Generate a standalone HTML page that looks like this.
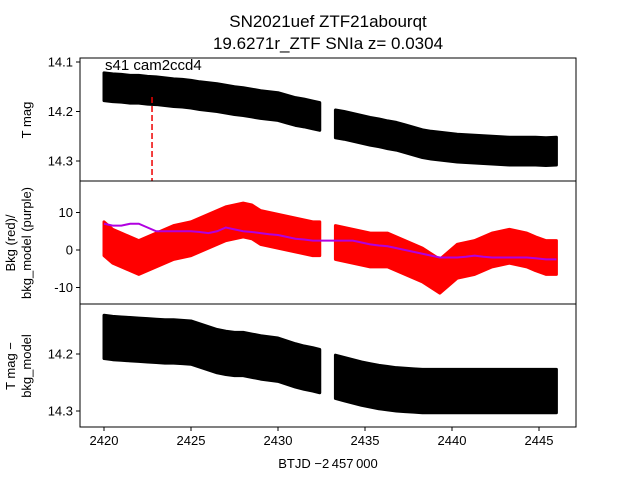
<!DOCTYPE html>
<html><head><meta charset="utf-8"><style>
body{margin:0;background:#fff;}
svg{display:block;font-family:"Liberation Sans","DejaVu Sans",sans-serif;}
</style></head><body>
<svg id="c" width="640" height="480" viewBox="0 0 640 480">
<text x="328" y="27" font-size="17" text-anchor="middle">SN2021uef  ZTF21abourqt</text>
<text x="328" y="49" font-size="17" text-anchor="middle">19.6271r_ZTF SNIa z= 0.0304</text>
<g id="marks"></g>
<g id="axes"></g>
</svg>
<script>
const times=[2420,2420.5,2421,2421.5,2422,2422.5,2423,2423.5,2424,2424.5,2425,2425.5,2426,2426.5,2427,2427.5,2428,2428.5,2429,2429.5,2430,2430.5,2431,2431.5,2432,2432.4,2433.3,2433.8,2434.3,2434.8,2435.3,2435.8,2436.3,2436.8,2437.3,2437.8,2438.3,2438.8,2439.3,2439.8,2440.3,2440.8,2441.3,2441.8,2442.3,2442.8,2443.3,2443.8,2444.3,2444.8,2445.4,2446];
const tmag=[14.15,14.152,14.153,14.155,14.155,14.157,14.158,14.16,14.162,14.163,14.165,14.168,14.17,14.172,14.175,14.178,14.18,14.183,14.186,14.188,14.19,14.195,14.2,14.203,14.207,14.21,14.225,14.228,14.232,14.236,14.24,14.243,14.247,14.25,14.255,14.26,14.265,14.268,14.27,14.272,14.274,14.275,14.276,14.277,14.278,14.279,14.28,14.28,14.28,14.28,14.281,14.28];
const bkg=[3,1,0,-1,-2,-1,0,1,2,2.5,3,4,5,6,7,7.5,8,7.5,6,5.5,5,4.5,4,3.5,3,3,2,1.5,1,0.5,0,0,0,-1,-2,-3,-4,-5.5,-7,-5,-3,-2.5,-2,-1,0,0.5,1,0.5,0,-1,-2,-2];
const bkgModel=[7,6.5,6.5,7,7,6,5,5,5,5,5,4.8,4.5,5,6,5.5,5,4.8,4.5,4.2,4,3.5,3,2.8,2.5,2.5,2.5,2.5,2.5,2,1.5,1.2,1,0.5,0,-0.5,-1,-1.5,-2,-2,-2,-1.8,-1.5,-1.8,-2,-2,-2,-2,-2,-2.2,-2.5,-2.5];
const cmag=[14.17,14.172,14.173,14.174,14.175,14.176,14.177,14.178,14.178,14.179,14.18,14.185,14.19,14.195,14.198,14.2,14.2,14.203,14.206,14.208,14.21,14.215,14.22,14.224,14.227,14.23,14.24,14.244,14.248,14.252,14.255,14.258,14.26,14.262,14.263,14.264,14.265,14.265,14.265,14.265,14.265,14.265,14.265,14.265,14.265,14.265,14.265,14.265,14.265,14.265,14.265,14.265];
const tickX=[2420,2425,2430,2435,2440,2445];
const tick1=[14.1,14.2,14.3];
const tick2=[10,0,-10];
const tick3=[14.2,14.3];
const markerT=2422.76;
const gapStart=2432.4, gapEnd=2433.3;

const NS="http://www.w3.org/2000/svg";
const L=80,R=576;
const xs=t=>104+(t-2420)*17.4;
const y1=m=>62+(m-14.1)*495;
const y2=v=>250-v*3.75;
const y3=m=>354+(m-14.2)*570;
const marks=document.getElementById('marks'),axes=document.getElementById('axes');
function mk(tag,at,parent){const e=document.createElementNS(NS,tag);for(const k in at)e.setAttribute(k,at[k]);parent.appendChild(e);return e;}
function band(vals,sp,yf,color,name){
 const segs=[times.map((t,i)=>i).filter(i=>times[i]<=gapStart),times.map((t,i)=>i).filter(i=>times[i]>=gapEnd)];
 segs.forEach(idx=>{
  const up=idx.map(i=>xs(times[i])+','+yf(vals[i]+sp));
  const dn=idx.slice().reverse().map(i=>xs(times[i])+','+yf(vals[i]-sp));
  const p=mk('polygon',{points:up.concat(dn).join(' '),fill:color,stroke:color,'stroke-width':3,'stroke-linejoin':'round'},marks);
  
  
 });
}
band(tmag,0.028,y1,'#000','tmag-band');
band(bkg,4.5,y2,'#f00','bkg-band');
band(cmag,0.038,y3,'#000','corrected-mag-band');
let p=mk('polyline',{points:times.map((t,i)=>xs(t)+','+y2(bkgModel[i])).join(' '),fill:'none',stroke:'#b000e0','stroke-width':2},marks);


let ml=mk('line',{x1:xs(markerT),x2:xs(markerT),y1:97,y2:181,stroke:'#e00','stroke-width':1.5,'stroke-dasharray':'6,3'},marks);


[[58,181],[181,304],[304,427]].forEach((pp,k)=>{
 const fr=mk('rect',{x:L,y:pp[0],width:R-L,height:pp[1]-pp[0],fill:'none',stroke:'#000','stroke-width':1},axes);
 
 
});
function ytick(vals,f,fmt,name){vals.forEach(v=>{const y=f(v);mk('line',{x1:L-4,x2:L,y1:y,y2:y,stroke:'#000'},axes);
 const tx=mk('text',{x:L-7,y:y+4.5,'font-size':13,'text-anchor':'end'},axes);tx.textContent=fmt(v);
 
 });}
ytick(tick1,y1,v=>v.toFixed(1),'y1-tick-label');
ytick(tick2,y2,v=>String(v),'y2-tick-label');
ytick(tick3,y3,v=>v.toFixed(1),'y3-tick-label');
tickX.forEach(t=>{const x=xs(t);mk('line',{x1:x,x2:x,y1:427,y2:431,stroke:'#000'},axes);
 const tx=mk('text',{x:x,y:445,'font-size':13,'text-anchor':'middle'},axes);tx.textContent=t;
 
 });
function lab(x,y,txt,name,rot){const e=mk('text',{x:x,y:y,'font-size':13,'text-anchor':'middle',transform:rot?`rotate(-90 ${x} ${y})`:''},axes);e.textContent=txt;
 
 return e;}
lab(328,468,'BTJD \u22122\u2009457\u2009000','x-axis-title');
lab(31,120,'T mag','y1-axis-title',true);
lab(15,243,'Bkg (red)/','y2-axis-title',true);
lab(31,243,'bkg_model (purple)','y2-axis-title-2',true);
lab(15,366,'T mag \u2212','y3-axis-title',true);
lab(31,366,'bkg_model','y3-axis-title-2',true);
const an=mk('text',{x:105,y:70,'font-size':15},axes);an.textContent='s41 cam2ccd4';


</script>
</body></html>
